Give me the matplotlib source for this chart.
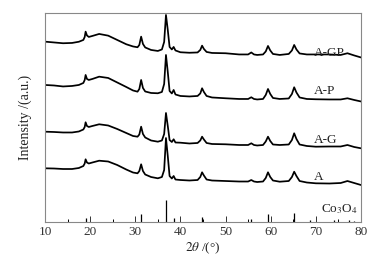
import numpy as np
import matplotlib
matplotlib.use('Agg')
import matplotlib.pyplot as plt

plt.rcParams['font.family'] = ['Liberation Serif', 'DejaVu Serif']
plt.rcParams['mathtext.fontset'] = 'stix'

### DATA

two_theta = [10, 12, 14, 16, 17.5, 18.5, 18.8, 19.0, 19.3, 19.7, 20.5, 22, 24, 26, 28,
             29.5, 30.5, 30.9, 31.3, 31.7, 32.2, 33.5, 35, 35.9, 36.4, 36.8, 37.2, 37.6,
             38.1, 38.5, 38.9, 40, 42, 43.8, 44.4, 44.8, 45.2, 45.8, 47, 50, 53, 55.0,
             55.7, 56.3, 57, 58.3, 58.9, 59.4, 59.9, 60.5, 62, 64.0, 64.7, 65.2, 65.7,
             66.4, 68, 70, 73, 75.5, 77, 78.5, 80]

I_A_GP = [180.3, 179.5, 178.7, 179.0, 180.2, 182.0, 185, 190.3, 186.5, 185, 186, 188,
          186.3, 182, 177.7, 175.5, 174.7, 177, 185.3, 178, 174.5, 172, 171, 172.5, 180,
          207, 192, 175, 172.5, 175, 171.5, 169.7, 169.2, 169.5, 172, 176.3, 173, 170,
          169, 168.7, 167.5, 167.5, 169.5, 167.5, 167, 167.5, 170.5, 176, 171.5, 168,
          167, 168, 171.5, 177, 172.5, 168.5, 167.5, 167.5, 167.5, 167, 168.7, 166.5, 164.5]

I_A_P = [137, 136.5, 135.5, 136, 137, 139, 142, 147, 143, 142, 143, 145.3, 144, 139.5,
         135, 131.5, 130.3, 133, 142, 134, 130.5, 129, 128.7, 130, 138, 167, 150, 131,
         128.5, 132, 127.5, 126, 125.5, 126, 128.5, 133.7, 130, 126, 124.5, 123.7, 123,
         123, 124.7, 123, 122.5, 123, 127, 133, 128, 124, 123, 123.5, 128, 134.7, 129.5,
         124.5, 123, 122.7, 122.5, 122.5, 123.7, 122, 120.5]

I_A_G = [90.3, 90, 89.5, 89.5, 90.5, 92.5, 95, 99.7, 96, 95, 96, 97.7, 96.5, 93, 89, 86,
         85.3, 87.5, 95.3, 88, 84.5, 81.5, 80.3, 81.5, 88, 109, 96, 82, 80, 82.7, 79.5,
         79.3, 78.5, 79, 81.5, 85.3, 82.5, 79, 78, 77.7, 77, 77, 78.7, 77, 76.5, 77, 80.5,
         85.3, 81, 77.5, 77, 77.5, 82, 88.7, 83, 77.5, 76, 75.3, 75.5, 75.5, 77, 75, 73.7]

I_A = [53.7, 53.5, 53, 53, 54, 56, 58.5, 62.7, 59.5, 58.5, 59.5, 61.3, 60.5, 57, 52.5,
       49.5, 48.7, 51, 57.7, 51, 47.5, 45, 43.7, 45, 52, 84, 66, 46, 43.5, 46, 42.5, 42,
       41.5, 42, 45, 49.7, 46.5, 42.5, 41.5, 41, 40.5, 40.5, 42, 40.5, 40, 40.5, 44, 49.7,
       45, 41.5, 40.3, 41, 45, 50.3, 46, 41, 39.5, 38.7, 38.5, 39, 41, 39, 37]

sample_names = ['A-GP', 'A-P', 'A-G', 'A']
label_y = [169, 131, 82, 45.3]

# Co3O4 standard pattern (relative intensity, %)
ref_pos = [19.0, 31.3, 36.8, 38.5, 44.8, 55.7, 59.4, 65.2, 68.6, 74.1, 77.3, 78.4]
ref_int = [20, 35, 100, 20, 22, 15, 35, 40, 8, 8, 10, 6]

### PLOT

fig = plt.figure(figsize=(3.78, 2.64), dpi=100)
ax = fig.add_axes([0.119, 0.159, 0.836, 0.792])

for I in [I_A_GP, I_A_P, I_A_G, I_A]:
    ax.plot(two_theta, I, color='black', lw=1.25)

ax.vlines(ref_pos, 0, np.array(ref_int) * 0.22, color='black', lw=0.9)

for name, yy in zip(sample_names, label_y):
    ax.text(69.6, yy, name, fontsize=9.5, va='center', ha='left', color='#222222')
ax.text(71.1, 13, 'Co$_3$O$_4$', fontsize=9.5, va='center', ha='left', color='#222222')

ax.set_xlim(10, 80)
ax.set_ylim(0, 209)
ax.set_xticks(range(10, 81, 10))
ax.set_xticks(range(15, 80, 10), minor=True)
ax.tick_params(axis='x', which='major', direction='in', length=4, width=0.7,
               labelsize=9.5, pad=3, colors='#333333')
ax.tick_params(axis='x', which='minor', direction='in', length=2.5, width=0.7)
ax.set_yticks([])
for s in ax.spines.values():
    s.set_color('#888888')
    s.set_linewidth(0.8)

ax.set_xlabel(r'$2\theta$ /(°)', fontsize=9.5, labelpad=2, color='#222222')
ax.set_ylabel('Intensity /(a.u.)', fontsize=10, labelpad=9, color='#222222')

plt.savefig('out.png', dpi=100)
